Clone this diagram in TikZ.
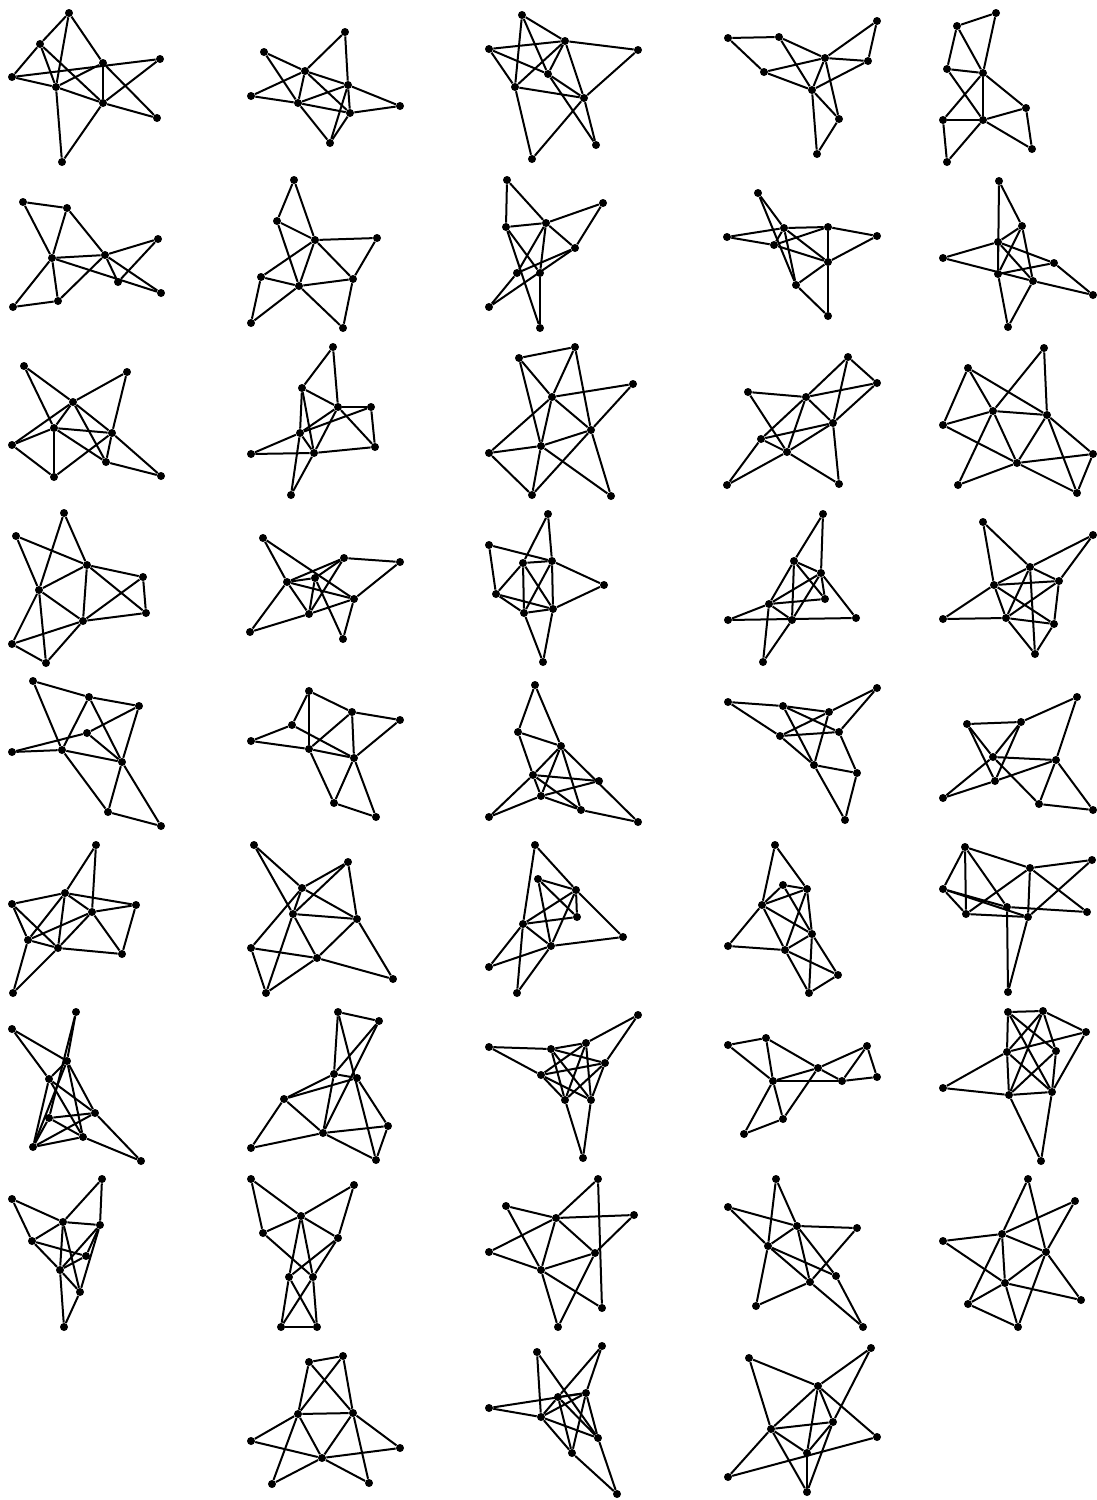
\documentclass[tikz,border=0pt]{standalone}
\usepackage{tikz}

\tikzset{
  vtx/.style={circle,fill=black,inner sep=0pt,minimum size=4pt},
  link/.style={line width=1pt}
}

\newcommand{\smallgraph}[3]{%
  \begin{scope}[name prefix=#1-]
    \foreach \n/\x/\y in {#2} \node[vtx] (\n) at (\x,\y) {};
    \foreach \u/\v in {#3} \draw[link] (\u) -- (\v);
  \end{scope}}

\begin{document}
\begin{tikzpicture}[x=0.5pt,y=-0.5pt]
  \useasboundingbox (0,0) rectangle (1097,1500);

  % row 1
  \smallgraph{g11}{a/69/13,b/40/44,c/12/77,d/56/87,e/103/63,f/160/59,g/103/103,h/157/118,i/62/162}
    {a/b,a/d,a/e,b/c,b/d,b/g,c/d,c/f,d/e,d/g,d/i,e/g,e/h,f/g,g/h,g/i}
  \smallgraph{g12}{a/264/52,b/345/32,c/305/71,d/251/96,e/298/103,f/348/85,g/350/113,h/400/106,i/330/143}
    {a/c,a/e,e/i,b/c,b/f,c/d,c/e,c/f,c/g,d/e,e/g,e/f,f/g,f/i,g/h,g/i,f/h}
  \smallgraph{g13}{a/522/15,b/489/49,c/565/41,d/638/50,e/548/74,f/515/87,g/584/98,h/596/145,i/532/159}
    {a/c,a/f,a/e,e/h,b/c,b/f,b/e,e/g,c/d,c/f,c/e,c/g,g/h,d/g,f/g,f/i,g/i}
  \smallgraph{g14}{a/728/38,b/779/37,c/877/21,d/825/58,e/868/61,f/764/72,g/812/90,h/839/119,i/817/154}
    {a/b,a/f,b/d,b/g,f/d,f/g,d/c,d/e,d/g,d/h,c/e,e/g,g/h,g/i,h/i}
  \smallgraph{g15}{a/957/26,b/996/13,c/947/69,d/983/73,e/943/120,f/983/120,g/1026/108,h/1032/149,i/947/162}
    {a/b,a/c,a/d,b/d,c/d,c/f,d/e,d/f,d/g,e/f,e/i,f/g,f/h,f/i,g/h}

  % row 2
  \smallgraph{g21}{a/23/202,b/67/208,c/52/258,d/105/255,e/158/239,f/118/282,g/161/293,h/13/307,i/58/301}
    {a/b,a/c,b/c,b/d,c/d,c/h,c/i,c/g,d/e,d/f,d/g,d/i,e/f,h/i}
  \smallgraph{g22}{a/294/180,b/277/221,c/315/240,d/377/238,e/261/277,f/299/286,g/353/279,h/251/323,i/343/328}
    {a/b,a/c,b/c,b/f,c/d,c/e,c/f,c/g,d/g,e/f,e/h,f/h,f/g,f/i,g/i}
  \smallgraph{g23}{a/507/180,b/603/203,c/546/223,d/506/227,e/575/248,f/517/273,g/540/273,h/489/307,i/540/328}
    {a/d,a/c,c/e,b/c,b/e,c/d,c/f,c/g,d/g,d/i,e/f,e/h,f/h,g/i}
  \smallgraph{g24}{a/758/193,b/727/237,c/784/228,d/828/227,e/877/236,f/774/245,g/828/262,h/796/285,i/828/316}
    {a/c,a/h,b/c,b/f,c/d,c/f,c/g,c/h,f/d,f/g,d/g,d/e,e/g,g/h,g/i,h/i}
  \smallgraph{g25}{a/999/181,b/1022/226,c/998/242,d/943/258,e/1054/263,f/998/274,g/1033/281,h/1093/295,i/1008/327}
    {a/b,a/f,b/c,b/f,b/g,c/d,c/e,c/f,c/g,d/g,e/f,e/h,f/i,g/h,g/i}

  % row 3
  \smallgraph{g31}{a/24/366,b/127/372,c/73/402,d/54/428,e/112/433,f/12/445,g/106/462,h/54/477,i/161/476}
    {a/c,a/d,b/c,b/e,c/d,c/f,c/e,c/g,d/f,d/e,d/h,d/g,e/h,e/g,e/i,f/h,g/i}
  \smallgraph{g32}{a/333/347,b/302/388,c/338/407,d/371/407,e/300/433,f/251/454,g/314/453,h/375/447,i/291/495}
    {a/b,a/c,b/c,b/e,b/g,c/d,c/e,c/g,c/h,d/e,d/h,e/f,e/g,e/i,f/g,g/h,g/i}
  \smallgraph{g33}{a/519/358,b/575/347,c/633/384,d/552/397,e/591/430,f/489/453,g/541/446,h/532/495,i/611/496}
    {a/b,a/d,a/g,b/d,b/e,e/i,d/c,d/e,d/f,d/g,c/e,e/g,e/h,f/g,f/h,g/h,g/i}
  \smallgraph{g34}{a/848/357,b/748/392,c/806/397,d/877/383,e/833/423,f/761/439,g/787/452,h/727/485,i/839/484}
    {a/c,a/d,a/e,b/c,b/g,c/d,c/e,c/f,c/g,d/e,e/f,e/g,e/i,f/g,f/h,g/h,g/i}
  \smallgraph{g35}{a/1044/348,b/968/368,c/993/411,d/1047/415,e/943/425,f/1017/463,g/1093/454,h/958/485,i/1077/493}
    {a/d,a/c,b/c,b/e,b/d,c/e,c/d,c/f,c/h,d/f,d/g,d/i,e/f,f/g,f/h,f/i,g/i}

  % row 4
  \smallgraph{g41}{a/64/513,b/16/536,c/87/565,d/143/577,e/39/590,f/146/613,g/83/621,h/12/644,i/46/663}
    {a/e,a/c,b/e,b/c,c/e,c/d,c/g,c/f,d/f,d/g,e/g,e/h,e/i,g/f,g/h,g/i,h/i}
  \smallgraph{g42}{a/263/538,b/344/558,c/400/562,d/287/582,e/315/578,f/354/599,g/250/632,h/309/614,i/343/639}
    {a/d,a/f,b/c,b/d,b/e,b/h,c/f,d/e,d/f,d/g,d/h,e/h,e/i,f/h,f/i,g/h}
  \smallgraph{g43}{a/548/514,b/489/545,c/523/563,d/552/561,e/604/585,f/496/594,g/524/613,h/553/609,i/543/662}
    {a/c,a/d,b/d,b/f,c/d,c/f,c/g,c/h,d/g,d/h,d/e,e/h,f/g,f/h,g/h,g/i,h/i}
  \smallgraph{g44}{a/823/514,b/794/561,c/821/573,d/825/599,e/769/604,f/728/620,g/792/620,h/856/618,i/763/662}
    {a/b,a/c,b/c,b/d,b/e,b/g,c/d,c/e,c/g,c/h,d/e,e/f,e/g,e/i,f/h,g/i}
  \smallgraph{g45}{a/983/522,b/1093/535,c/1030/567,d/1059/581,e/994/585,f/943/619,g/1006/618,h/1054/624,i/1035/654}
    {a/c,a/e,b/c,b/d,c/e,c/g,c/i,c/d,d/e,d/g,d/h,e/f,e/g,e/h,f/g,g/h,g/i,h/i}

  % row 5
  \smallgraph{g51}{a/33/681,b/89/697,c/139/706,d/87/733,e/12/752,f/62/750,g/122/762,h/108/812,i/161/826}
    {a/b,a/f,b/c,b/f,b/g,c/d,c/g,d/e,d/g,e/f,f/g,f/h,g/h,g/i,h/i}
  \smallgraph{g52}{a/309/691,b/352/712,c/400/720,d/292/725,e/251/741,f/309/749,g/354/758,h/334/803,i/376/817}
    {a/b,a/d,a/f,b/c,b/f,b/g,c/g,d/e,d/g,e/f,f/g,f/h,g/h,g/i,h/i}
  \smallgraph{g53}{a/535/685,b/518/732,c/561/746,d/533/775,e/599/781,f/541/796,g/489/817,h/581/810,i/638/822}
    {a/b,a/c,b/c,b/d,c/d,c/f,c/h,c/i,d/e,d/f,d/g,d/h,e/f,f/g,f/h,h/i}
  \smallgraph{g54}{a/728/702,b/783/706,c/877/688,d/829/712,e/780/736,f/839/732,g/814/765,h/857/773,i/845/820}
    {a/b,a/e,e/g,b/d,b/f,b/g,c/d,c/f,d/e,d/g,e/f,f/h,g/h,g/i,h/i}
  \smallgraph{g55}{a/1077/697,b/967/724,c/1021/722,d/993/757,e/1056/760,f/995/781,g/943/798,h/1039/804,i/1093/810}
    {a/c,a/e,b/c,b/d,b/f,c/d,c/f,d/e,d/g,d/h,e/f,e/h,e/i,f/g,h/i}

  % row 6
  \smallgraph{g61}{a/96/845,b/12/904,c/65/893,d/136/905,e/92/912,f/28/940,g/58/948,h/122/954,i/13/993}
    {a/c,a/e,b/c,b/f,b/g,c/d,c/e,c/f,c/g,d/e,d/h,e/f,e/g,e/h,f/g,f/i,g/h,g/i}
  \smallgraph{g62}{a/254/845,b/348/862,c/302/888,d/293/914,e/357/919,f/251/948,g/317/958,h/266/993,i/393/979}
    {a/c,a/d,d/g,b/c,b/d,b/e,c/e,c/f,c/d,d/h,d/e,e/g,e/i,f/g,f/h,g/h,g/i}
  \smallgraph{g63}{a/535/845,b/538/879,c/576/890,d/577/917,e/523/924,f/623/937,g/551/946,h/489/967,i/517/993}
    {a/c,c/f,a/e,b/c,b/d,b/g,c/d,c/e,c/g,e/d,e/g,e/h,e/i,g/f,g/h,g/i}
  \smallgraph{g64}{a/775/845,b/783/885,c/807/889,d/762/905,e/812/934,f/728/946,g/785/950,h/838/975,i/809/993}
    {a/c,a/d,b/c,b/d,b/e,c/d,c/e,c/g,d/f,d/e,d/g,e/g,e/h,e/i,g/h,g/i,h/i,f/g}
  \smallgraph{g65}{a/965/847,b/1030/868,c/1092/860,d/943/889,e/966/914,f/1007/907,g/1028/917,h/1087/912,i/1008/992}
    {a/b,a/d,a/e,a/f,b/c,b/e,b/g,b/h,c/g,d/e,d/f,d/g,e/g,f/h,f/i,g/i}

  % row 7
  \smallgraph{g71}{a/76/1012,b/12/1029,c/67/1061,d/49/1079,e/95/1113,f/49/1118,g/83/1137,h/33/1147,i/141/1161}
    {a/c,a/f,b/c,b/d,c/d,c/e,c/g,c/h,d/e,d/g,d/h,e/f,e/h,e/i,f/g,f/h,g/h,g/i}
  \smallgraph{g72}{a/338/1012,b/379/1021,c/334/1074,d/357/1078,e/284/1099,f/388/1126,g/323/1133,h/251/1148,i/376/1160}
    {a/b,a/c,a/i,b/c,b/g,c/d,c/e,c/g,d/e,d/f,e/g,e/h,f/g,f/i,g/h,g/i}
  \smallgraph{g73}{a/638/1015,b/489/1047,c/551/1049,d/586/1043,e/605/1063,f/541/1075,g/565/1100,h/591/1100,i/583/1158}
    {a/d,a/e,b/c,b/f,c/d,c/e,c/g,c/h,d/f,d/g,d/h,e/f,e/g,e/h,f/g,f/h,g/i,h/i}
  \smallgraph{g74}{a/728/1045,b/766/1038,c/867/1046,d/818/1068,e/773/1081,f/842/1081,g/877/1077,h/783/1119,i/744/1134}
    {a/b,a/e,b/e,b/d,d/f,d/c,d/e,d/h,e/f,f/g,c/g,c/f,e/h,e/i,h/i}
  \smallgraph{g75}{a/1008/1012,b/1043/1011,c/1086/1032,d/1007/1052,e/1056/1051,f/943/1088,g/1009/1095,h/1052/1092,i/1041/1161}
    {a/b,a/d,a/e,a/h,b/c,b/d,b/e,b/g,c/d,c/h,d/f,d/g,d/h,e/g,e/h,f/g,g/h,g/i,h/i}

  % row 8
  \smallgraph{g81}{a/102/1179,b/12/1199,c/63/1222,d/100/1225,e/32/1241,f/86/1256,g/60/1270,h/80/1292,i/64/1327}
    {a/c,a/d,b/c,b/e,c/d,c/e,c/g,c/h,d/f,d/g,d/h,e/f,e/g,f/g,g/h,g/i,h/i}
  \smallgraph{g82}{a/251/1179,b/354/1185,c/301/1216,d/263/1233,e/338/1238,f/289/1277,g/313/1277,h/281/1327,i/317/1327}
    {a/c,a/d,b/c,b/e,c/d,c/f,c/g,c/e,d/g,e/f,e/g,f/h,f/i,g/h,g/i,h/i}
  \smallgraph{g83}{a/598/1179,b/506/1206,c/556/1218,d/634/1215,e/489/1252,f/595/1253,g/541/1270,h/602/1308,i/558/1327}
    {a/c,a/h,b/c,b/g,c/d,c/e,c/f,c/g,d/f,e/g,f/g,f/i,g/h,g/i}
  \smallgraph{g84}{a/776/1179,b/728/1207,c/797/1226,d/857/1228,e/768/1246,f/836/1276,g/810/1282,h/756/1306,i/863/1327}
    {a/e,a/c,b/c,b/e,c/d,c/e,c/g,c/f,f/i,e/f,d/g,e/h,g/h,e/g,g/i}
  \smallgraph{g85}{a/1028/1179,b/1075/1201,c/943/1241,d/1002/1234,e/1046/1252,f/1005/1283,g/968/1304,h/1081/1300,i/1018/1327}
    {a/d,a/e,b/d,b/e,c/d,c/f,d/e,d/f,d/g,e/f,e/i,e/h,f/g,f/h,f/i,g/i}

  % row 9
  \smallgraph{g92}{a/309/1362,b/343/1356,c/298/1414,d/353/1413,e/251/1441,f/400/1448,g/322/1458,h/272/1484,i/369/1483}
    {a/b,a/c,a/d,b/c,b/d,c/d,c/e,c/g,c/h,d/f,d/g,d/i,e/g,f/g,g/h,g/i}
  \smallgraph{g93}{a/537/1352,b/602/1346,c/489/1408,d/558/1397,e/586/1393,f/541/1417,g/598/1438,h/572/1453,i/617/1494}
    {a/f,a/g,b/d,d/f,b/e,c/e,c/f,d/e,d/g,d/h,e/f,e/h,f/g,f/h,e/g,g/i,h/i}
  \smallgraph{g94}{a/749/1358,b/871/1348,c/818/1386,d/833/1422,e/771/1429,f/877/1437,g/807/1453,h/728/1477,i/807/1492}
    {a/c,a/e,b/c,b/d,d/i,c/d,c/e,c/f,c/g,e/d,e/g,e/i,d/g,g/i,e/h,h/f}
\end{tikzpicture}
\end{document}
